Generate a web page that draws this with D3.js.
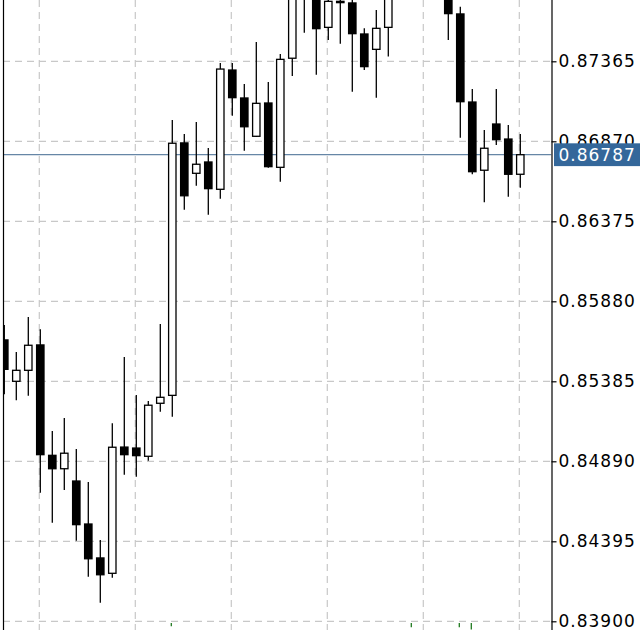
<!DOCTYPE html>
<html>
<head>
<meta charset="utf-8">
<script src="https://cdn.jsdelivr.net/npm/d3@7"></script>
<style>
  body { margin: 0; background: #fff; }
  .tick-label { font-family: "DejaVu Sans", sans-serif; font-size: 17px; letter-spacing: 1px; }
</style>
</head>
<body>
<div id="chart"></div>
<script>
// candle data, oldest first (prices, some run off the top)
var opens = [0.85641, 0.85385, 0.85453, 0.85610, 0.84927, 0.84844, 0.84768, 0.84502, 0.84292, 0.84197,
  0.84978, 0.84972, 0.84921, 0.85249, 0.85298, 0.86860, 0.86672, 0.86742, 0.86573, 0.87311,
  0.87138, 0.86901, 0.87107, 0.86709, 0.87384, 0.87800, 0.87860, 0.87575, 0.87736, 0.87726,
  0.87534, 0.87439, 0.87575, 0.87800, 0.87900, 0.87980, 0.87900, 0.87850, 0.87658, 0.87113,
  0.86691, 0.86977, 0.86884, 0.86666];
var highs = [0.85733, 0.85566, 0.85783, 0.85707, 0.85078, 0.85158, 0.84966, 0.84762, 0.84403, 0.85125,
  0.85535, 0.85300, 0.85263, 0.85740, 0.87002, 0.86915, 0.86989, 0.86829, 0.87355, 0.87355,
  0.87225, 0.87484, 0.87237, 0.87410, 0.87992, 0.87950, 0.87920, 0.87790, 0.87800, 0.87770,
  0.87569, 0.87682, 0.87850, 0.87960, 0.88050, 0.88030, 0.87950, 0.87900, 0.87703, 0.87194,
  0.86940, 0.87194, 0.86971, 0.86915];
var lows = [0.85305, 0.85267, 0.85296, 0.84696, 0.84510, 0.84712, 0.84399, 0.84176, 0.84015, 0.84170,
  0.84807, 0.84795, 0.84894, 0.85197, 0.85166, 0.86447, 0.86595, 0.86416, 0.86515, 0.87028,
  0.86812, 0.86897, 0.86707, 0.86620, 0.87274, 0.87542, 0.87282, 0.87497, 0.87474, 0.87177,
  0.87311, 0.87140, 0.87394, 0.87760, 0.87850, 0.87860, 0.87770, 0.87497, 0.86892, 0.86666,
  0.86493, 0.86847, 0.86527, 0.86583];
var closes = [0.85459, 0.85453, 0.85608, 0.84931, 0.84844, 0.84940, 0.84498, 0.84287, 0.84188, 0.84977,
  0.84931, 0.84925, 0.85237, 0.85286, 0.86858, 0.86533, 0.86728, 0.86577, 0.87317, 0.87140,
  0.86960, 0.87105, 0.86713, 0.87377, 0.87899, 0.87880, 0.87567, 0.87736, 0.87728, 0.87536,
  0.87332, 0.87569, 0.87790, 0.87900, 0.87980, 0.87900, 0.87820, 0.87660, 0.87115, 0.86682,
  0.86827, 0.86880, 0.86666, 0.86787];

// price axis labels
var priceTicks = [0.83900, 0.84395, 0.84890, 0.85385, 0.85880, 0.86375, 0.86870, 0.87365];
var lastPrice = 0.86787;

// small green marks peeking in at the bottom edge (candle index, length in price units)
var signalIdx = [14, 34, 38, 39];
var signalLen = [0.00020, 0.00027, 0.00027, 0.00040];

var width = 640;
var height = 630;
var plotLeft = 3;
var plotRight = 551.5;

var svg = d3.select("#chart")
    .append("svg")
    .attr("width", width)
    .attr("height", height);

// x: one slot per candle, y: price
var x = d3.scaleLinear()
    .domain([0, opens.length - 1])
    .range([4.3, 520.3]);

var y = d3.scaleLinear()
    .domain([0.83900, 0.87365])
    .range([621.3, 61.3]);

svg.append("clipPath")
    .attr("id", "clip")
    .append("rect")
    .attr("x", plotLeft)
    .attr("y", 0)
    .attr("width", plotRight - plotLeft)
    .attr("height", height);

var plot = svg.append("g").attr("clip-path", "url(#clip)");

// dashed grid
plot.selectAll(".hgrid")
    .data(priceTicks)
    .enter().append("line")
    .attr("x1", plotLeft)
    .attr("x2", plotRight)
    .attr("y1", function(d) { return y(d); })
    .attr("y2", function(d) { return y(d); })
    .attr("stroke", "#c8c8c8")
    .attr("stroke-width", 1.2)
    .attr("stroke-dasharray", "7,5");

var gridIdx = d3.range(3, opens.length, 8);
plot.selectAll(".vgrid")
    .data(gridIdx)
    .enter().append("line")
    .attr("x1", function(d) { return x(d) - 1; })
    .attr("x2", function(d) { return x(d) - 1; })
    .attr("y1", 0)
    .attr("y2", height)
    .attr("stroke", "#c8c8c8")
    .attr("stroke-width", 1.2)
    .attr("stroke-dasharray", "7,5");

// last price line
plot.append("line")
    .attr("x1", plotLeft)
    .attr("x2", plotRight)
    .attr("y1", y(lastPrice))
    .attr("y2", y(lastPrice))
    .attr("stroke", "#3f6890")
    .attr("stroke-width", 1);

// candles
var idx = d3.range(opens.length);
var candle = plot.selectAll(".candle")
    .data(idx)
    .enter().append("g");

candle.append("line")
    .attr("x1", function(i) { return x(i); })
    .attr("x2", function(i) { return x(i); })
    .attr("y1", function(i) { return y(highs[i]); })
    .attr("y2", function(i) { return y(lows[i]); })
    .attr("stroke", "#000")
    .attr("stroke-width", 1.3);

candle.append("rect")
    .attr("x", function(i) { return x(i) - 3.7; })
    .attr("width", 7.4)
    .attr("y", function(i) { return y(Math.max(opens[i], closes[i])); })
    .attr("height", function(i) { return Math.max(1, Math.abs(y(opens[i]) - y(closes[i]))); })
    .attr("fill", function(i) { return closes[i] >= opens[i] ? "#fff" : "#000"; })
    .attr("stroke", "#000")
    .attr("stroke-width", 1.3);

// green marks at the bottom
plot.selectAll(".signal")
    .data(signalIdx)
    .enter().append("line")
    .attr("x1", function(d) { return x(d) - 1; })
    .attr("x2", function(d) { return x(d) - 1; })
    .attr("y1", function(d, j) { return y(0.83900 - 0.00010 - signalLen[j]); })
    .attr("y2", y(0.83900 - 0.00010))
    .attr("stroke", "#1f7a1f")
    .attr("stroke-width", 1.3);

// left border
svg.append("line")
    .attr("x1", plotLeft + 0.5)
    .attr("x2", plotLeft + 0.5)
    .attr("y1", 0)
    .attr("y2", height)
    .attr("stroke", "#000")
    .attr("stroke-width", 1.2);

// price axis on the right
var axis = svg.append("g")
    .attr("transform", "translate(" + plotRight + ",0)")
    .call(d3.axisRight(y)
        .tickValues(priceTicks)
        .tickSize(5)
        .tickPadding(2)
        .tickFormat(d3.format(".5f")));

axis.select(".domain")
    .attr("d", "M0.5,0V" + height)
    .attr("stroke", "#000")
    .attr("stroke-width", 1.2);
axis.selectAll(".tick line").attr("stroke", "#000").attr("stroke-width", 1.2);
axis.selectAll(".tick text")
    .attr("class", "tick-label")
    .attr("fill", "#000")
    .attr("font-family", null)
    .attr("font-size", null);

// last price tag
svg.append("rect")
    .attr("x", plotRight + 2.5)
    .attr("y", y(lastPrice) - 11.4)
    .attr("width", width - plotRight)
    .attr("height", 22.8)
    .attr("fill", "#34679a");

svg.append("text")
    .attr("class", "tick-label")
    .attr("x", plotRight + 7)
    .attr("y", y(lastPrice))
    .attr("dy", "0.35em")
    .attr("fill", "#fff")
    .text(d3.format(".5f")(lastPrice));
</script>
</body>
</html>
